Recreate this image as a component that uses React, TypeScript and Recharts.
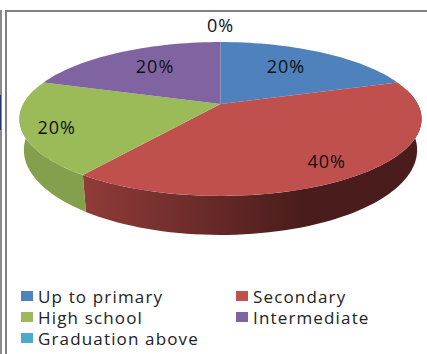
import React from "react";
import { PieChart, Pie, Cell } from "recharts";

const categories = ["Up to primary", "Secondary", "High school", "Intermediate", "Graduation above"];
const shares = [20, 40, 20, 20, 0];
const topColors = ["#4f81bd", "#c0504d", "#9bbb59", "#8064a2", "#4bacc6"];
const wallStops = [
  ["#5f86b8", "#3a5f8c"],
  ["#8f3b39", "#4a1d1c"],
  ["#84a04c", "#7a9546"],
  ["#6a5388", "#4f3d68"],
  ["#3e93a8", "#2d7082"],
];
// Distance of each percentage label from the pie centre, as a fraction of the radius,
// and a small vertical nudge in pixels.
const labelReach = [0.62, 0.8, 0.83, 0.62, 1.33];
const labelNudge = [-4, 2, 3, -4, -1];

const FONT = '"Open Sans", sans-serif';
const TILT = 0.3753;
const PERSPECTIVE = 0.195;
const RAD = Math.PI / 180;
// The pie's lower rim is an ellipse of its own, a little narrower and rounder than the upper one.
const RIM_MID_Y = 119;
const LOWER_MID_Y = 150;
const LOWER_X_SCALE = 0.978;
const LOWER_Y_SCALE = 1.104;

// Projects a point of the flat disc onto the tilted plane of the pie.
function project(cx: number, cy: number, r: number, angle: number, reach = 1) {
  const u = Math.cos(angle * RAD) * reach;
  const v = Math.sin(angle * RAD) * reach;
  const w = 1 + PERSPECTIVE * v;
  return [cx + (r * u) / w, cy - (r * TILT * v) / w];
}

function arcPoints(cx: number, cy: number, r: number, from: number, to: number) {
  const steps = Math.max(2, Math.ceil(Math.abs(to - from) / 2));
  const pts: number[][] = [];
  for (let i = 0; i <= steps; i++) {
    pts.push(project(cx, cy, r, from + ((to - from) * i) / steps));
  }
  return pts;
}

const toPath = (pts: number[][]) =>
  pts.map((p, i) => `${i ? "L" : "M"}${p[0].toFixed(2)},${p[1].toFixed(2)}`).join(" ");

function Slice(props: any) {
  const { cx, cy, outerRadius, startAngle, endAngle, index, fill } = props;
  const rim = arcPoints(cx, cy, outerRadius, startAngle, endAngle);
  // The rim faces the viewer between these two angles; only that stretch gets a side wall.
  const horizon = Math.asin(PERSPECTIVE) / RAD;
  const wallFrom = Math.min(startAngle, horizon);
  const wallTo = Math.max(endAngle, -180 - horizon);
  const hasWall = wallFrom > wallTo;
  const front = hasWall ? arcPoints(cx, cy, outerRadius, wallFrom, wallTo) : [];
  const lower = front
    .map((p) => [cx + (p[0] - cx) * LOWER_X_SCALE, LOWER_MID_Y + (p[1] - RIM_MID_Y) * LOWER_Y_SCALE])
    .reverse();
  const gradientId = `wall-${index}`;
  return (
    <g>
      <defs>
        <linearGradient id={gradientId} gradientUnits="userSpaceOnUse" x1={88} x2={300} y1={0} y2={0}>
          <stop offset="0" stopColor={wallStops[index][0]} />
          <stop offset="1" stopColor={wallStops[index][1]} />
        </linearGradient>
      </defs>
      {hasWall && <path d={`${toPath(front)} ${toPath(lower).replace("M", "L")} Z`} fill={`url(#${gradientId})`} />}
      <path d={`M${cx},${cy} ${toPath(rim).replace("M", "L")} Z`} fill={fill} />
    </g>
  );
}

function PercentLabel(props: any) {
  const { cx, cy, outerRadius, midAngle, index, percent } = props;
  const [x, y] = project(cx, cy, outerRadius, midAngle, labelReach[index]);
  return (
    <text x={x} y={y + labelNudge[index]} textAnchor="middle" dominantBaseline="central" fontFamily={FONT} fontSize={18} letterSpacing={1} fill="#111">
      {`${Math.round(percent * 100)}%`}
    </text>
  );
}

const rows = categories.map((name, i) => ({ name, value: shares[i] }));

function LegendRow({ index, left, top }: { index: number; left: number; top: number }) {
  return (
    <div style={{ position: "absolute", left, top, height: 20, display: "flex", alignItems: "center", whiteSpace: "nowrap" }}>
      <span style={{ width: 12, height: 10, background: topColors[index], marginRight: 5 }} />
      <span style={{ fontFamily: FONT, fontSize: 17, color: "#222", letterSpacing: 1.15 }}>{categories[index]}</span>
    </div>
  );
}

export default function App() {
  return (
    <div style={{ position: "absolute", left: 0, top: 0, width: 427, height: 354, background: "#fff", overflow: "hidden" }}>
      <div style={{ position: "absolute", left: 0, top: 10, width: 2, height: 344, background: "#8a8a8a" }} />
      <div style={{ position: "absolute", left: 0, top: 95, width: 1, height: 35, background: "#1f3a68" }} />
      <div style={{ position: "absolute", left: 5, top: 10, width: 422, height: 2, background: "#808080" }} />
      <div style={{ position: "absolute", left: 5, top: 10, width: 2, height: 344, background: "#808080" }} />
      <PieChart width={427} height={354} margin={{ top: 0, right: 0, bottom: 0, left: 0 }} style={{ position: "absolute", left: 0, top: 0 }}>
        <Pie
          data={rows}
          dataKey="value"
          nameKey="name"
          cx={220.5}
          cy={104}
          outerRadius={197.2}
          startAngle={90}
          endAngle={-270}
          stroke="none"
          isAnimationActive={false}
          shape={Slice}
          label={PercentLabel}
          labelLine={false}
        >
          {rows.map((r, i) => (
            <Cell key={r.name} fill={topColors[i]} />
          ))}
        </Pie>
      </PieChart>
      <LegendRow index={0} left={21} top={286} />
      <LegendRow index={1} left={236} top={286} />
      <LegendRow index={2} left={21} top={307} />
      <LegendRow index={3} left={236} top={307} />
      <LegendRow index={4} left={21} top={328} />
    </div>
  );
}
